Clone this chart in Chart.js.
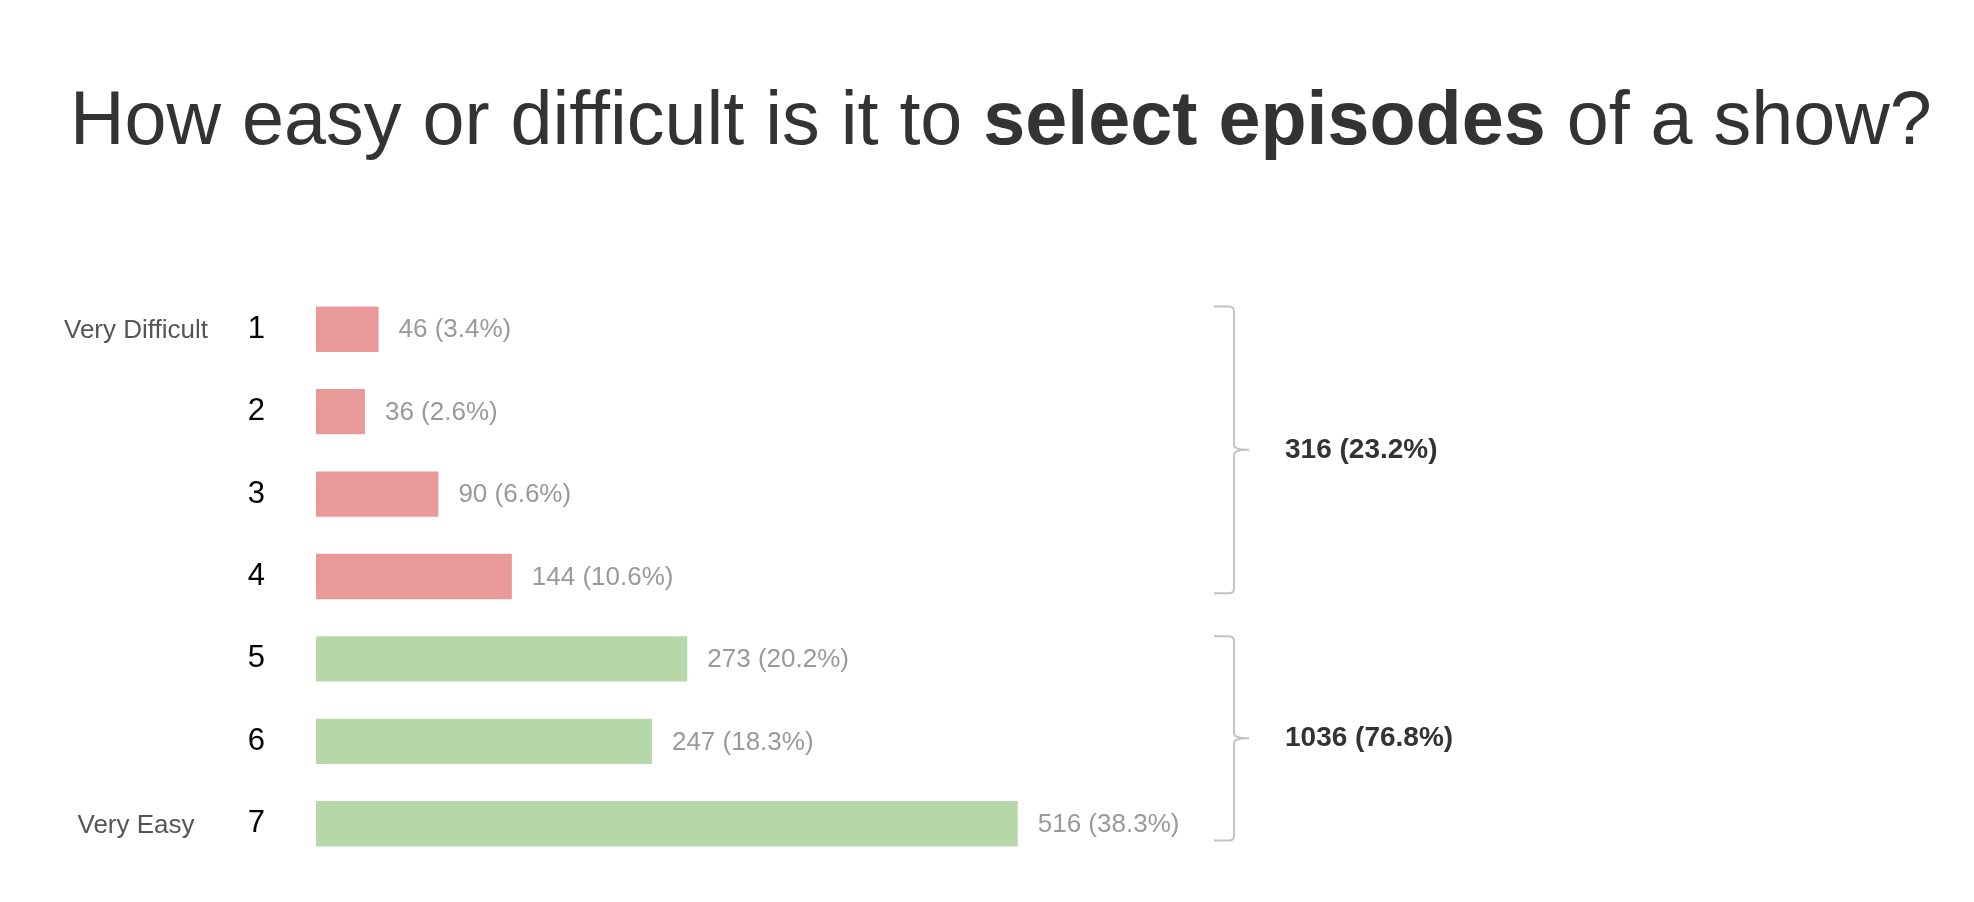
<!DOCTYPE html>
<html lang="en">
<head>
    <meta charset="UTF-8">
    <title>Select episodes</title>
    <script src="https://cdn.jsdelivr.net/npm/chart.js"></script>
    <style>
        html, body { margin: 0; padding: 0; background: #fff; overflow: hidden; }
        .janela { position: relative; width: 1974px; height: 902px; }
        .titulo {
            position: absolute; left: 70px; top: 81px; margin: 0;
            font: 75.5px "Liberation Sans", Arial, sans-serif; line-height: 1;
            color: #333; white-space: nowrap; font-weight: normal;
        }
        .titulo b { font-weight: bold; }
        canvas { position: absolute; left: 0; top: 0; }
    </style>
</head>
<body>
    <div class="janela">
        <h1 class="titulo">How easy or difficult is it to <b>select episodes</b> of a show?</h1>
        <canvas id="grafico" width="1974" height="902" style="width:1974px;height:902px"></canvas>
    </div>

<script>
    // dados
    const categorias = ['1', '2', '3', '4', '5', '6', '7'];
    const extremos = ['Very Difficult', '', '', '', '', '', 'Very Easy'];
    const respostas = [46, 36, 90, 144, 273, 247, 516];
    const porcentagens = [3.4, 2.6, 6.6, 10.6, 20.2, 18.3, 38.3];
    // grupos: dificil (1-4) e facil (5-7)
    const grupoInicio = [0, 4];
    const grupoFim = [3, 6];
    const grupoCor = ['#ea9999', '#b6d7a8'];

    const cores = respostas.map((v, i) => i <= grupoFim[0] ? grupoCor[0] : grupoCor[1]);

    // rotulos das barras, extremos e chaves
    const rotulos = {
        id: 'rotulos',
        afterDatasetsDraw(chart) {
            const ctx = chart.ctx;
            const meta = chart.getDatasetMeta(0);
            const area = chart.chartArea;
            ctx.save();
            ctx.textBaseline = 'middle';

            // valor (porcentagem)
            ctx.font = '26px "Liberation Sans", Arial, sans-serif';
            ctx.fillStyle = '#999';
            ctx.textAlign = 'left';
            meta.data.forEach((bar, i) => {
                ctx.fillText(respostas[i] + ' (' + porcentagens[i] + '%)', bar.x + 20, bar.y + 1);
            });

            // Very Difficult / Very Easy
            ctx.fillStyle = '#555';
            ctx.textAlign = 'center';
            meta.data.forEach((bar, i) => {
                if (extremos[i]) ctx.fillText(extremos[i], area.left - 180, bar.y + 2);
            });

            // chaves com totais
            const x = area.right;
            ctx.strokeStyle = '#c3c3c3';
            ctx.lineWidth = 2;
            for (let g = 0; g < grupoInicio.length; g++) {
                const a = meta.data[grupoInicio[g]];
                const b = meta.data[grupoFim[g]];
                const topo = a.y - a.height / 2;
                const base = b.y + b.height / 2 - 6;
                const meio = (topo + base) / 2;
                ctx.beginPath();
                ctx.moveTo(x - 20, topo);
                ctx.lineTo(x - 5, topo);
                ctx.quadraticCurveTo(x, topo, x, topo + 5);
                ctx.lineTo(x, meio - 5);
                ctx.quadraticCurveTo(x, meio, x + 15, meio);
                ctx.moveTo(x + 15, meio);
                ctx.quadraticCurveTo(x, meio, x, meio + 5);
                ctx.lineTo(x, base - 5);
                ctx.quadraticCurveTo(x, base, x - 5, base);
                ctx.lineTo(x - 20, base);
                ctx.stroke();

                let soma = 0, somaP = 0;
                for (let i = grupoInicio[g]; i <= grupoFim[g]; i++) {
                    soma += respostas[i];
                    somaP += porcentagens[i];
                }
                ctx.font = 'bold 28px "Liberation Sans", Arial, sans-serif';
                ctx.fillStyle = '#333';
                ctx.textAlign = 'left';
                ctx.fillText(soma + ' (' + somaP.toFixed(1) + '%)', x + 51, meio);
            }
            ctx.restore();
        }
    };

    const config = {
        type: 'bar',
        data: {
            labels: categorias,
            datasets: [{
                label: 'Respostas',
                data: respostas,
                backgroundColor: cores,
                borderWidth: 0,
                categoryPercentage: 1,
                barPercentage: 0.55
            }]
        },
        options: {
            indexAxis: 'y',
            responsive: false,
            devicePixelRatio: 1,
            animation: false,
            layout: { padding: { top: 288, bottom: 37, left: 166, right: 740 } },
            plugins: {
                legend: { display: false },
                tooltip: { enabled: false }
            },
            scales: {
                x: { display: false, min: 0, max: 675 },
                y: {
                    // marcas invisiveis so para afastar os numeros das barras
                    grid: { drawOnChartArea: false, color: 'transparent', tickLength: 41 },
                    border: { display: false },
                    afterFit(scale) { scale.width = 150; },
                    ticks: {
                        color: '#000',
                        padding: 10,
                        font: { size: 31, family: '"Liberation Sans", Arial, sans-serif' }
                    }
                }
            }
        },
        plugins: [rotulos]
    };

    new Chart(document.getElementById('grafico'), config);
</script>
</body>
</html>
